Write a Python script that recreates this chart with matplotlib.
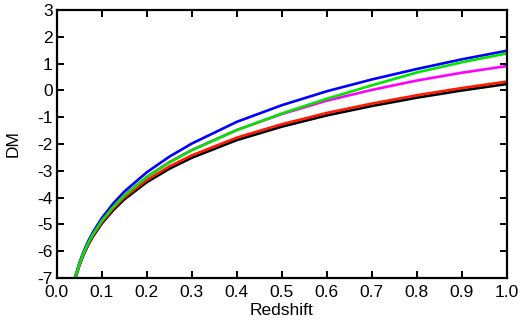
import matplotlib
matplotlib.use("Agg")
import matplotlib.pyplot as plt

plt.rcParams['font.family'] = ['Liberation Sans', 'DejaVu Sans']
plt.rcParams['axes.unicode_minus'] = False

# values
redshift = [0.035, 0.04, 0.05, 0.06, 0.07, 0.08, 0.1, 0.125, 0.15, 0.2,
            0.25, 0.3, 0.4, 0.5, 0.6, 0.7, 0.8, 0.9, 1.0]
dm_black = [-7.36, -7.06, -6.53, -6.10, -5.75, -5.45, -4.96, -4.47, -4.06, -3.42,
            -2.92, -2.51, -1.85, -1.35, -0.93, -0.58, -0.27, 0.00, 0.24]
dm_red = [-7.34, -7.04, -6.505, -6.07, -5.715, -5.41, -4.91, -4.41, -3.99, -3.34,
          -2.835, -2.42, -1.76, -1.26, -0.84, -0.49, -0.18, 0.09, 0.33]
dm_magenta = [-7.32, -7.02, -6.48, -6.04, -5.68, -5.37, -4.86, -4.35, -3.91, -3.22,
              -2.67, -2.22, -1.47, -0.88, -0.38, 0.02, 0.37, 0.66, 0.91]
dm_green = [-7.32, -7.02, -6.48, -6.04, -5.68, -5.37, -4.86, -4.35, -3.92, -3.23,
            -2.69, -2.23, -1.48, -0.86, -0.31, 0.19, 0.67, 1.05, 1.38]
dm_blue = [-7.29, -6.98, -6.43, -5.98, -5.61, -5.29, -4.76, -4.22, -3.77, -3.05,
           -2.47, -1.98, -1.17, -0.55, -0.03, 0.41, 0.80, 1.16, 1.48]

x_ticks = [0.0, 0.1, 0.2, 0.3, 0.4, 0.5, 0.6, 0.7, 0.8, 0.9, 1.0]
y_ticks = [-7, -6, -5, -4, -3, -2, -1, 0, 1, 2, 3]

fig = plt.figure(figsize=(5.22, 3.23), dpi=100)
ax = fig.add_axes([0.109, 0.139, 0.862, 0.830])

lw = 1.9
ax.plot(redshift, dm_black, color='black', lw=lw)
ax.plot(redshift, dm_red, color='#ff1a00', lw=lw)
ax.plot(redshift, dm_blue, color='#0000ff', lw=lw)
ax.plot(redshift, dm_magenta, color='#ff00ff', lw=lw)
ax.plot(redshift, dm_green, color='#00e600', lw=lw)

ax.set_xlim(0, 1)
ax.set_ylim(-7, 3)
ax.set_xticks(x_ticks)
ax.set_xticklabels([f"{t:.1f}" for t in x_ticks])
ax.set_yticks(y_ticks)
ax.set_yticklabels([str(t) for t in y_ticks])

ax.tick_params(direction='in', length=5, width=1.4, top=True, right=True,
               labelsize=12.5, labeltop=False, labelright=False)
ax.tick_params(axis='x', pad=5)
ax.tick_params(axis='y', pad=3)
for s in ax.spines.values():
    s.set_linewidth(1.6)

ax.set_xlabel("Redshift", fontsize=12.5, labelpad=2)
ax.set_ylabel("DM", fontsize=12.5, labelpad=12)

fig.savefig("out.png", dpi=100)
